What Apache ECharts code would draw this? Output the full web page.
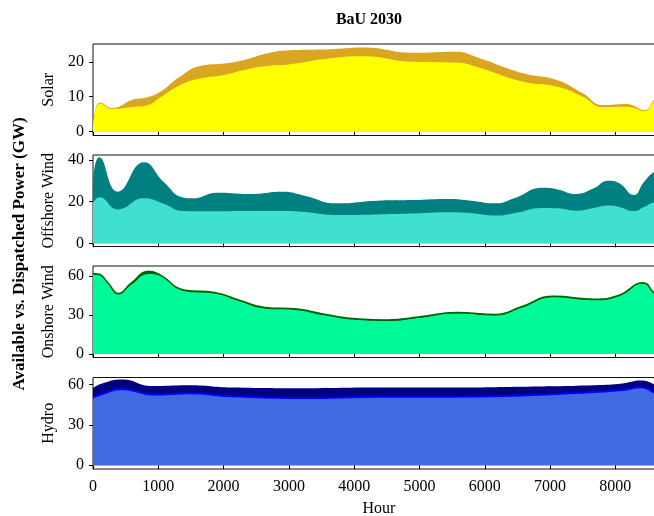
<!DOCTYPE html>
<html>
<head>
<meta charset="utf-8">
<script src="https://cdn.jsdelivr.net/npm/echarts@6/dist/echarts.min.js"></script>
<style>
html, body { margin: 0; padding: 0; background: #fff; }
#chart { width: 654px; height: 516px; }
</style>
</head>
<body>
<div id="chart"></div>
<script>
// values, hour of year -> GW
var solarHours = [0, 40, 110, 290, 620, 820, 1030, 1330, 1640, 2000, 2250, 2660, 3020, 3630, 4140, 4900, 5570, 5870, 6590, 7100, 7500, 7810, 8170, 8450, 8600, 8760];
var solarAvail = [0.5, 6.5, 8.3, 6.8, 9.2, 9.8, 11.4, 15.7, 18.8, 19.5, 20.2, 22.4, 23.3, 23.6, 24.1, 22.6, 22.9, 21.4, 16.7, 14.8, 11.0, 7.6, 7.9, 6.2, 9.3, 11.0];
var solarDisp  = [0.5, 6.3, 8.0, 6.5, 7.1, 7.5, 9.8, 13.3, 15.2, 16.2, 17.4, 18.8, 19.3, 21.0, 21.6, 20.0, 19.8, 18.6, 14.3, 12.9, 10.0, 7.0, 7.1, 5.9, 8.8, 10.0];

var offHours = [0, 95, 380, 780, 1080, 1380, 1520, 1910, 2410, 2900, 3240, 3740, 4350, 4900, 5450, 5790, 6170, 6450, 6890, 7120, 7390, 7670, 7890, 8060, 8280, 8440, 8600, 8760];
var offAvail = [30, 41.3, 24.8, 38.9, 29.6, 22.0, 21.6, 24.3, 23.7, 24.8, 22.9, 19.2, 20.5, 20.8, 21.3, 20.5, 19.2, 21.6, 26.7, 25.9, 23.7, 26.4, 30.0, 28.8, 23.2, 29.6, 34.4, 36.0];
var offDisp  = [19.2, 22.1, 16.3, 21.6, 19.0, 15.5, 15.4, 15.4, 15.5, 15.5, 15.0, 13.6, 13.9, 14.3, 14.9, 14.5, 13.4, 14.5, 17.0, 16.8, 15.7, 17.0, 18.2, 17.5, 15.5, 17.5, 19.7, 20.0];

var onHours = [0, 80, 220, 390, 580, 860, 1020, 1410, 1860, 2240, 2630, 3130, 3520, 4070, 4510, 5010, 5570, 6170, 6560, 7060, 7670, 8060, 8420, 8600, 8760];
var onAvail = [62.0, 61.8, 55.6, 46.7, 54.4, 63.8, 61.3, 49.2, 47.4, 41.5, 35.9, 34.6, 30.8, 26.9, 26.2, 28.7, 32.0, 30.5, 36.4, 44.6, 42.3, 45.4, 54.9, 46.7, 40.0];
var onDisp  = [61.2, 61.0, 54.8, 45.9, 53.2, 61.8, 60.3, 48.4, 46.6, 40.7, 35.1, 33.8, 30.0, 26.1, 25.4, 27.9, 31.2, 29.7, 35.6, 43.8, 41.5, 44.6, 54.1, 45.9, 39.2];

var hydroHours = [0, 140, 440, 910, 1470, 2130, 3240, 4350, 5450, 6560, 7670, 8110, 8390, 8600, 8760];
var hydroAvail = [57.5, 60.8, 63.8, 58.9, 59.5, 57.8, 57.3, 57.8, 57.8, 58.4, 59.5, 60.8, 63.0, 60.0, 55.0];
var hydroDisp  = [50.5, 53.0, 56.8, 52.7, 53.5, 51.4, 50.0, 50.9, 50.9, 51.9, 54.6, 56.0, 58.1, 54.0, 50.0];

var panelNames = ['Solar', 'Offshore Wind', 'Onshore Wind', 'Hydro'];
var xTicks = [0, 1000, 2000, 3000, 4000, 5000, 6000, 7000, 8000];
var yTicks = [[0, 10, 20], [0, 20, 40], [0, 30, 60], [0, 30, 60]];
var yRanges = [[-1.1, 25.1], [-1.5, 42.4], [-2.8, 67.9], [-2.8, 65.3]];

var font = 'Liberation Serif';
var tops = [44, 155, 266, 377.5];

function pairs(h, v) {
    return h.map(function (x, i) { return [x, v[i]]; });
}

function area(idx, h, v, fill, line) {
    return {
        type: 'line',
        xAxisIndex: idx,
        yAxisIndex: idx,
        data: pairs(h, v),
        smooth: 0.5,
        showSymbol: false,
        symbol: 'none',
        silent: true,
        lineStyle: line ? { color: line[0], width: line[1] } : { width: 0, opacity: 0 },
        areaStyle: { color: fill, opacity: 1 }
    };
}

var grids = [], xAxes = [], yAxes = [];
for (var i = 0; i < 4; i++) {
    grids.push({
        left: 93, width: 572, top: tops[i], height: 91.5,
        show: true, borderColor: '#111', borderWidth: 1,
        backgroundColor: 'transparent',
        containLabel: false, outerBoundsMode: 'none'
    });
    var last = i === 3;
    xAxes.push({
        type: 'value', gridIndex: i, min: 0, max: 8760,
        axisLine: { show: false },
        splitLine: { show: false },
        axisTick: { show: true, customValues: xTicks, length: 4, inside: false, lineStyle: { color: '#000', width: 1 } },
        axisLabel: {
            show: last, customValues: xTicks, fontFamily: font, fontSize: 16, color: '#000', margin: 10,
            formatter: function (v) { return String(v); }
        },
        name: last ? 'Hour' : '',
        nameLocation: 'middle', nameGap: 32,
        nameTextStyle: { fontFamily: font, fontSize: 16, color: '#000' }
    });
    yAxes.push({
        type: 'value', gridIndex: i, min: yRanges[i][0], max: yRanges[i][1],
        axisLine: { show: false },
        splitLine: { show: false },
        axisTick: { show: true, customValues: yTicks[i], length: 4, inside: false, lineStyle: { color: '#000', width: 1 } },
        axisLabel: { customValues: yTicks[i], fontFamily: font, fontSize: 16, color: '#000', margin: 9 },
        name: panelNames[i],
        nameLocation: 'middle', nameGap: 29, nameRotate: 90,
        nameTextStyle: { fontFamily: font, fontSize: 16, color: '#000' }
    });
}

var myChart = echarts.init(document.getElementById('chart'), null, { renderer: 'canvas' });
var option = {
    animation: false,
    backgroundColor: '#fff',
    grid: grids,
    xAxis: xAxes,
    yAxis: yAxes,
    graphic: [
        {
            type: 'text', x: 369, y: 20,
            style: { text: 'BaU 2030', font: 'bold 16px "Liberation Serif"', fill: '#000', align: 'center', verticalAlign: 'middle' }
        },
        {
            type: 'text', x: 20, y: 254, rotation: Math.PI / 2,
            style: { text: 'Available vs. Dispatched Power (GW)', font: 'bold 17px "Liberation Serif"', fill: '#000', align: 'center', verticalAlign: 'middle' }
        }
    ],
    series: [
        area(0, solarHours, solarAvail, 'goldenrod'),
        area(0, solarHours, solarDisp, 'yellow'),
        area(1, offHours, offAvail, 'teal'),
        area(1, offHours, offDisp, 'turquoise'),
        area(2, onHours, onAvail, 'darkgreen', ['darkgreen', 1.5]),
        area(2, onHours, onDisp, 'mediumspringgreen'),
        area(3, hydroHours, hydroAvail, 'navy'),
        area(3, hydroHours, hydroDisp, 'royalblue', ['blue', 2])
    ]
};
myChart.setOption(option);
</script>
</body>
</html>
